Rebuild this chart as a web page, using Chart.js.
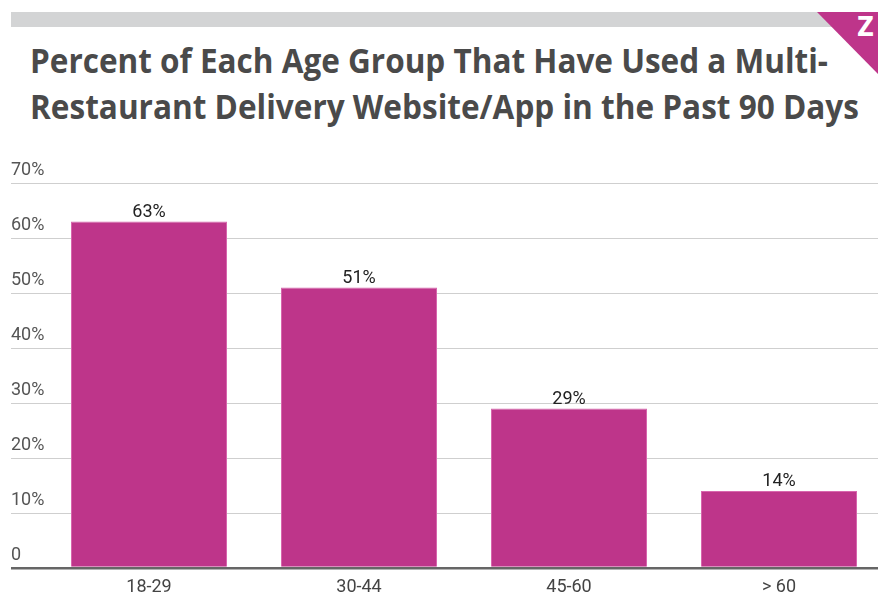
<!DOCTYPE html>
<html>
<head>
<meta charset="utf-8">
<script src="https://cdn.jsdelivr.net/npm/chart.js@4"></script>
<style>
  html, body { margin:0; padding:0; background:#fff; overflow:hidden; width:878px; height:595px; }
  #wrap { position:relative; width:878px; height:595px; overflow:hidden; }
  #topbar { position:absolute; left:11px; top:12px; width:867px; height:15px; background:#d3d4d5; }
  #tri { position:absolute; left:817px; top:12px; width:0; height:0; border-top:62px solid #be358a; border-left:61px solid transparent; }
  #logo { position:absolute; left:857px; top:14px; font:700 26px "Liberation Sans Narrow", "DejaVu Sans Condensed", sans-serif; color:#fff; line-height:26px; }
  .tl { position:absolute; left:30px; font-family:"Open Sans", sans-serif; font-weight:700; font-size:34px; color:#4a4a4a; white-space:nowrap; transform-origin:0 0; line-height:1; }
  #cv { position:absolute; left:0; top:0; }
</style>
</head>
<body>
<div id="wrap">
  <div id="topbar"></div>
  <div id="tri"></div>
  <div id="logo">Z</div>
  <div class="tl" id="t1" data-w="798">Percent of Each Age Group That Have Used a Multi-</div>
  <div class="tl" id="t2" data-w="829">Restaurant Delivery Website/App in the Past 90 Days</div>
  <canvas id="cv" width="884" height="595"></canvas>
</div>
<script>
const categories = ["18-29", "30-44", "45-60", "> 60"];
const percentUsed = [63, 51, 29, 14];
const yTickLabels = ["0", "10%", "20%", "30%", "40%", "50%", "60%", "70%"];

function placeTitle(id, top) {
  const el = document.getElementById(id);
  const target = +el.dataset.w;
  const w = el.getBoundingClientRect().width;
  el.style.top = top + "px";
  el.style.transform = "scaleX(" + (target / w) + ")";
}
placeTitle("t1", 43);
placeTitle("t2", 89);

const dataLabels = {
  id: "dataLabels",
  afterDatasetsDraw(chart) {
    const ctx = chart.ctx;
    const meta = chart.getDatasetMeta(0);
    ctx.save();
    ctx.font = '18px Roboto';
    ctx.fillStyle = '#222';
    ctx.textAlign = 'center';
    ctx.textBaseline = 'alphabetic';
    meta.data.forEach((bar, i) => {
      ctx.fillText(percentUsed[i] + '%', bar.x, bar.y - 5);
    });
    ctx.restore();
  }
};

new Chart(document.getElementById("cv"), {
  type: "bar",
  data: {
    labels: categories,
    datasets: [{
      data: percentUsed,
      backgroundColor: "#be358a",
      borderColor: "#d867ae",
      borderWidth: 1,
      categoryPercentage: 1,
      barPercentage: 0.743
    }]
  },
  options: {
    responsive: false,
    animation: false,
    devicePixelRatio: 1,
    layout: { padding: { top: 183, left: 11, right: 0, bottom: 0 } },
    plugins: { legend: { display: false }, tooltip: { enabled: false }, title: { display: false } },
    scales: {
      x: {
        grid: { display: false, drawTicks: false },
        border: { display: false },
        ticks: { color: "#444", font: { family: "Roboto", size: 18 }, padding: 9, maxRotation: 0 },
        afterFit(s) { s.height = 27; }
      },
      y: {
        min: 0, max: 70,
        border: { display: false },
        grid: {
          color: c => c.index === 0 ? "#666" : "#cfcfcf",
          lineWidth: c => c.index === 0 ? 2.5 : 1,
          tickLength: 33,
          drawTicks: true
        },
        ticks: {
          stepSize: 10,
          crossAlign: "far",
          labelOffset: -13,
          padding: 0,
          color: "#555",
          font: { family: "Roboto", size: 18 },
          callback: (v, i) => yTickLabels[i]
        },
        afterFit(s) { s.width = 33; }
      }
    }
  },
  plugins: [dataLabels]
});
</script>
</body>
</html>
